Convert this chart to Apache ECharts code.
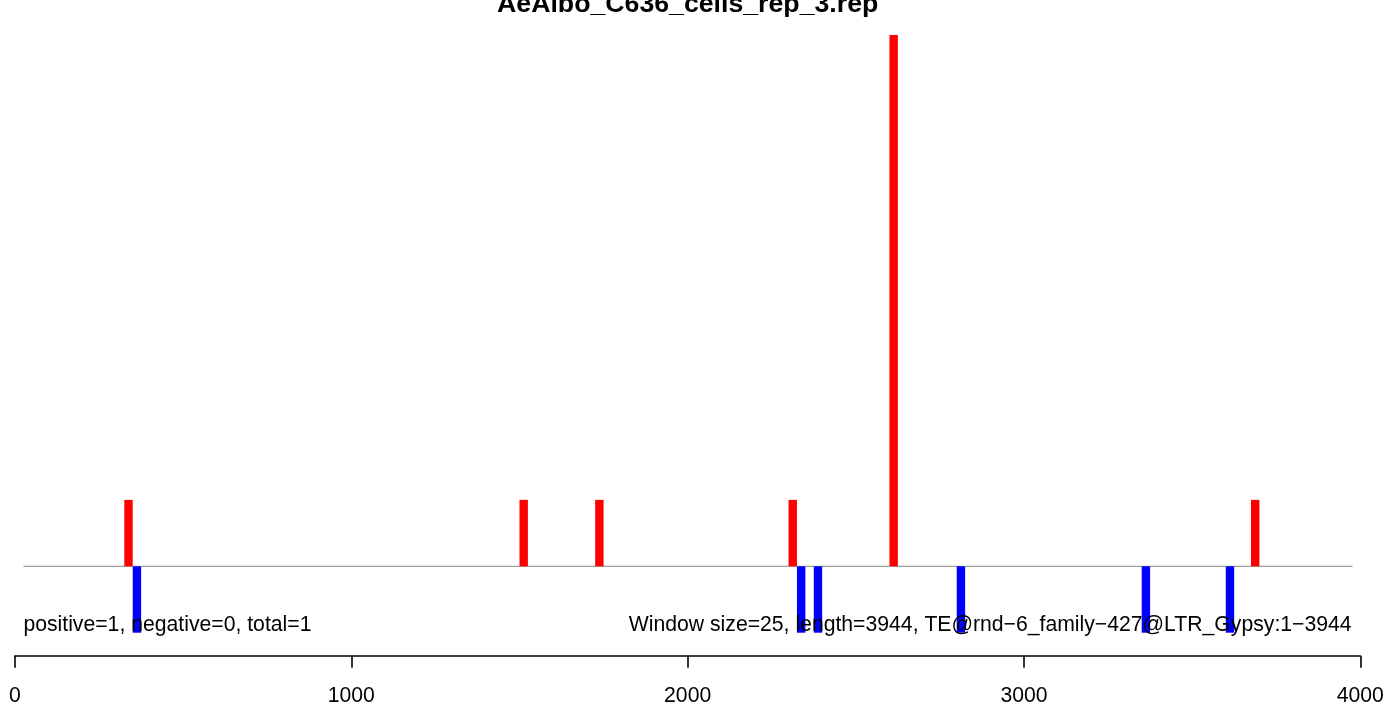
<!DOCTYPE html>
<html>
<head>
<meta charset="utf-8">
<script src="https://cdn.jsdelivr.net/npm/echarts@6/dist/echarts.min.js"></script>
<style>html,body{margin:0;padding:0;background:#fff}#c{width:1387px;height:707px}</style>
</head>
<body>
<div id="c"></div>
<script>
var titleText = 'AeAlbo_C636_cells_rep_3.rep';
var leftNote = 'positive=1, negative=0, total=1';
var rightNote = 'Window size=25, length=3944, TE@rnd\u22126_family\u2212427@LTR_Gypsy:1\u22123944';
var windowSize = 25;
var redStarts = [325, 1500, 1725, 2300, 2600, 3675];
var redValues = [1, 1, 1, 1, 8, 1];
var blueStarts = [350, 2325, 2375, 2800, 3350, 3600];
var blueValues = [-1, -1, -1, -1, -1, -1];
var baselineRange = [25, 3977];
var xTicks = [0, 1000, 2000, 3000, 4000];

function toData(starts, vals) {
  return starts.map(function (s, i) { return [s, s + windowSize, vals[i]]; });
}
function renderBar(params, api) {
  var p0 = api.coord([api.value(0), 0]);
  var p1 = api.coord([api.value(1), api.value(2)]);
  return {
    type: 'rect',
    shape: { x: p0[0], y: Math.min(p0[1], p1[1]), width: p1[0] - p0[0], height: Math.abs(p1[1] - p0[1]) },
    style: { fill: api.visual('color') }
  };
}
var chart = echarts.init(document.getElementById('c'));
var option = {
  animation: false,
  grid: { left: 15, right: 26.7, top: 35, bottom: 74.3, containLabel: false },
  xAxis: {
    type: 'value', min: xTicks[0], max: xTicks[xTicks.length - 1], interval: 1000,
    position: 'bottom', offset: 23,
    axisLine: { show: true, onZero: false, lineStyle: { color: '#000', width: 1.6 } },
    axisTick: { show: true, length: 12, lineStyle: { color: '#000', width: 1.6 } },
    axisLabel: { show: true, margin: 30, color: '#000', fontSize: 21.2, fontFamily: 'Liberation Sans',
      showMinLabel: true, showMaxLabel: true, formatter: function (v) { return String(v); } },
    splitLine: { show: false }
  },
  yAxis: { type: 'value', min: -1, max: 8, show: false, splitLine: { show: false } },
  series: [
    { type: 'line', data: [[baselineRange[0], 0], [baselineRange[1], 0]], showSymbol: false, symbol: 'none',
      lineStyle: { color: '#a0a0a0', width: 1.2 }, silent: true, z: 1 },
    { type: 'custom', renderItem: renderBar, data: toData(redStarts, redValues), itemStyle: { color: '#ff0000' }, z: 2 },
    { type: 'custom', renderItem: renderBar, data: toData(blueStarts, blueValues), itemStyle: { color: '#0000ff' }, z: 2 }
  ]
};
chart.setOption(option);
var pL = chart.convertToPixel({ gridIndex: 0 }, [baselineRange[0], -1]);
var pR = chart.convertToPixel({ gridIndex: 0 }, [baselineRange[1], -1]);
var pC = chart.convertToPixel({ gridIndex: 0 }, [2000, 8]);
chart.setOption({
  graphic: [
    { type: 'text', z: 10, style: { text: titleText, x: pC[0], y: 4.8, align: 'center', verticalAlign: 'middle',
      font: 'bold 26.7px "Liberation Sans"', fill: '#000' } },
    { type: 'text', z: 10, style: { text: leftNote, x: pL[0], y: pL[1] - 7.5, align: 'left', verticalAlign: 'middle',
      font: '21.2px "Liberation Sans"', fill: '#000' } },
    { type: 'text', z: 10, style: { text: rightNote, x: pR[0] - 1, y: pR[1] - 7.5, align: 'right', verticalAlign: 'middle',
      font: '21.2px "Liberation Sans"', fill: '#000' } }
  ]
});
</script>
</body>
</html>
